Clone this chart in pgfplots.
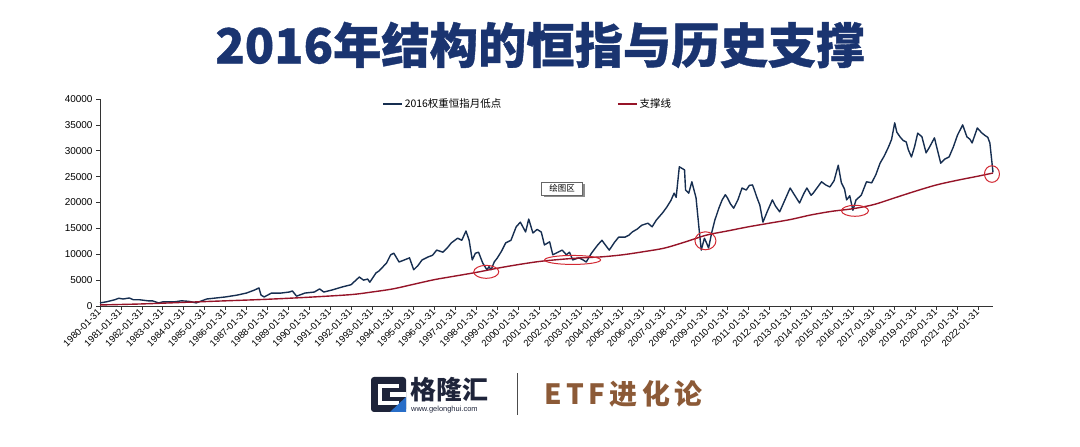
\documentclass[border=0pt]{standalone}
\usepackage{pgfplots}
\pgfplotsset{compat=1.18}
\usepackage{fontspec}
\setmainfont{Liberation Sans}
\newfontfamily\cjk{Noto Sans CJK SC}
\newfontfamily\titlefont{Noto Sans CJK SC}[BoldFeatures={FakeBold=0.8}]
\definecolor{navy}{RGB}{26,52,112}
\definecolor{serie}{RGB}{22,46,80}
\definecolor{supp}{RGB}{150,20,40}
\definecolor{circ}{RGB}{210,40,50}
\definecolor{brownt}{RGB}{140,90,55}
\definecolor{logo}{RGB}{30,36,58}
\definecolor{logoblue}{RGB}{40,110,200}

\pgfplotstableread{
x y
1980.0 600
1980.3 800
1980.7 1200
1980.9 1500
1981.1 1350
1981.4 1550
1981.6 1200
1981.9 1200
1982.3 1000
1982.5 1000
1982.8 600
1983.0 800
1983.55 800
1983.9 1000
1984.25 900
1984.6 600
1985.1 1350
1985.55 1550
1986.0 1750
1986.55 2100
1987.0 2500
1987.4 3100
1987.6 3500
1987.7 2100
1987.85 1750
1988.2 2500
1988.65 2500
1989.05 2700
1989.2 2900
1989.4 1900
1989.8 2500
1990.25 2700
1990.5 3300
1990.7 2700
1991.1 3100
1991.6 3700
1992.0 4100
1992.4 5600
1992.6 5000
1992.8 5200
1992.9 4600
1993.2 6400
1993.35 6800
1993.7 8300
1993.9 9900
1994.05 10200
1994.3 8500
1994.55 8900
1994.8 9300
1995.0 7000
1995.2 7800
1995.4 8900
1995.7 9500
1995.9 9800
1996.1 10800
1996.4 10400
1996.6 11200
1996.8 12200
1997.0 12800
1997.1 13100
1997.3 12700
1997.5 14500
1997.65 12700
1997.8 8900
1997.95 10200
1998.1 10400
1998.3 8300
1998.5 7000
1998.6 7600
1998.7 7000
1998.85 8500
1999.0 9300
1999.2 10600
1999.4 12200
1999.65 12700
1999.9 15300
2000.1 16200
2000.35 14300
2000.5 16800
2000.7 14100
2000.9 14800
2001.1 14300
2001.25 11800
2001.5 12400
2001.65 9900
2001.9 10400
2002.1 10800
2002.3 9900
2002.45 10400
2002.6 8900
2002.9 9300
2003.1 8900
2003.25 8500
2003.5 10200
2003.8 11800
2004.0 12700
2004.2 11600
2004.35 10800
2004.6 12300
2004.8 13300
2005.1 13300
2005.3 13700
2005.45 14300
2005.7 14900
2005.9 15600
2006.2 16000
2006.4 15300
2006.6 16600
2006.9 18000
2007.1 19100
2007.3 20400
2007.45 21800
2007.55 21000
2007.7 26900
2007.95 26300
2008.0 22400
2008.15 21800
2008.3 24000
2008.5 20900
2008.65 14700
2008.75 10800
2008.9 13100
2009.0 12200
2009.1 11200
2009.25 14200
2009.4 16600
2009.6 19000
2009.75 20500
2009.9 21500
2010.0 20900
2010.15 19700
2010.3 18900
2010.5 20500
2010.7 22800
2010.9 22400
2011.05 23300
2011.2 23400
2011.3 22300
2011.4 21100
2011.55 19500
2011.7 16200
2011.9 18200
2012.15 20500
2012.3 19300
2012.5 18200
2012.75 20500
2013.0 22800
2013.2 21500
2013.45 19900
2013.65 21700
2013.8 22800
2014.0 21400
2014.1 21800
2014.3 22900
2014.5 24000
2014.7 23400
2014.9 23000
2015.1 24200
2015.3 27200
2015.45 23800
2015.6 22600
2015.7 20500
2015.85 21300
2016.0 18500
2016.15 20500
2016.4 21400
2016.65 24000
2016.9 23800
2017.1 25400
2017.3 27600
2017.5 29000
2017.7 30700
2017.85 32200
2018.0 35400
2018.1 33600
2018.25 32700
2018.4 32000
2018.55 31700
2018.65 30200
2018.8 28800
2018.95 30800
2019.1 33400
2019.3 32700
2019.5 29600
2019.65 30600
2019.9 32500
2020.05 30000
2020.2 27600
2020.4 28400
2020.6 28800
2020.8 30700
2021.0 33000
2021.25 35000
2021.45 32700
2021.6 32200
2021.7 31500
2021.95 34400
2022.15 33500
2022.3 33000
2022.45 32600
2022.55 31500
2022.7 25800
}\hsi

\pgfplotstableread{
x y
1980 200
1982 400
1984 700
1986 1000
1988 1300
1990 1700
1992 2200
1993 2700
1994 3300
1995 4200
1996 5100
1997 5800
1998 6500
1999 7300
2000 8000
2001 8600
2002 9000
2003 9300
2004 9500
2005 9900
2006 10500
2007 11200
2008 12400
2009 13700
2010 14500
2011 15300
2012 16000
2013 16700
2014 17600
2015 18300
2016 18800
2017 19600
2018 20900
2019 22200
2020 23400
2021 24300
2022 25100
2022.7 25700
}\support

\begin{document}
\begin{tikzpicture}
\path[use as bounding box, fill=white] (0bp,0bp) rectangle (1080bp,447bp);

\begin{axis}[
  at={(100bp,141bp)}, anchor=south west,
  scale only axis, width=893bp, height=207bp,
  xmin=1980, xmax=2022.7, ymin=0, ymax=40000,
  axis x line*=bottom, axis y line*=left,
  axis line style={black!80, line width=0.8pt},
  tick style={black!80, line width=0.6pt},
  tick align=outside, major tick length=4bp,
  xtick={1980,...,2022},
  ytick={0,5000,...,40000},
  scaled y ticks=false,
  xticklabel={\pgfmathparse{int(round(\tick))}\pgfmathresult-01-31},
  x tick label style={rotate=45, anchor=east, font=\fontsize{9.5}{10}\selectfont, inner sep=1bp},
  y tick label style={font=\fontsize{10}{11}\selectfont},
  /pgf/number format/1000 sep={},
  /pgf/number format/assume math mode=true,
  legend style={at={(0.316,0.976)}, anchor=west, draw=none, fill=none,
    font=\cjk\fontsize{10.5}{11}\selectfont, inner sep=0pt,
    /tikz/every even column/.append style={column sep=114bp}},
  legend columns=2,
  legend image code/.code={\draw[#1] (0bp,0bp) -- (19bp,0bp);},
  clip=false,
]
\addplot[serie, line width=1.4pt, line join=round] table[x=x,y=y] {\hsi};
\addlegendentry{2016权重恒指月低点}
\addplot[supp, line width=1.4pt, smooth] table[x=x,y=y] {\support};
\addlegendentry{支撑线}

\draw[circ, line width=1pt] (axis cs:1998.47,6600) ellipse [x radius=12.5bp, y radius=6.5bp];
\draw[circ, line width=1pt] (axis cs:2002.6,8900) ellipse [x radius=28bp, y radius=4.5bp];
\draw[circ, line width=1pt] (axis cs:2008.95,12600) ellipse [x radius=10.5bp, y radius=9bp];
\draw[circ, line width=1pt] (axis cs:2016.1,18400) ellipse [x radius=13.5bp, y radius=5.5bp];
\draw[circ, line width=1pt] (axis cs:2022.65,25500) ellipse [x radius=7.5bp, y radius=8.3bp];

\fill[black!45] ([xshift=2bp,yshift=-2bp]axis cs:2002.1,22700) ++(-20.5bp,-6.5bp) rectangle ++(41bp,13bp);
\node[fill=white, draw=black!60, line width=0.5pt, minimum width=41bp, minimum height=13bp, inner sep=0pt,
  font=\cjk\fontsize{8.5}{9}\selectfont] at (axis cs:2002.1,22700) {绘图区};
\end{axis}

\begin{scope}[x=1bp,y=1bp]
\node[font=\titlefont\bfseries\fontsize{48.5}{56}\selectfont, text=navy] at (540,402) {2016年结构的恒指与历史支撑};
% footer
\fill[logo, rounded corners=3bp] (371,35) rectangle (406,70);
\fill[white] (378,42) rectangle (399,63);
\fill[logo] (382,46) rectangle (399,59);
\fill[white] (390,50) rectangle (406,55);
\fill[logoblue] (390,35) -- (406,35) -- (406,50) -- cycle;
\node[font=\cjk\bfseries\fontsize{26}{28}\selectfont, text=logo, anchor=west, inner sep=0pt] at (410,57) {格隆汇};
\node[font=\fontsize{7.5}{8}\selectfont, text=logo, anchor=west, inner sep=0pt] at (411,37) {www.gelonghui.com};
\draw[black!70, line width=0.8pt] (517.5,32) -- (517.5,74);
\node[font=\cjk\bfseries\fontsize{28}{30}\selectfont\addfontfeature{LetterSpace=16}, text=brownt, anchor=west, inner sep=0pt] at (544,53) {ETF进化论};
\end{scope}
\end{tikzpicture}
\end{document}
